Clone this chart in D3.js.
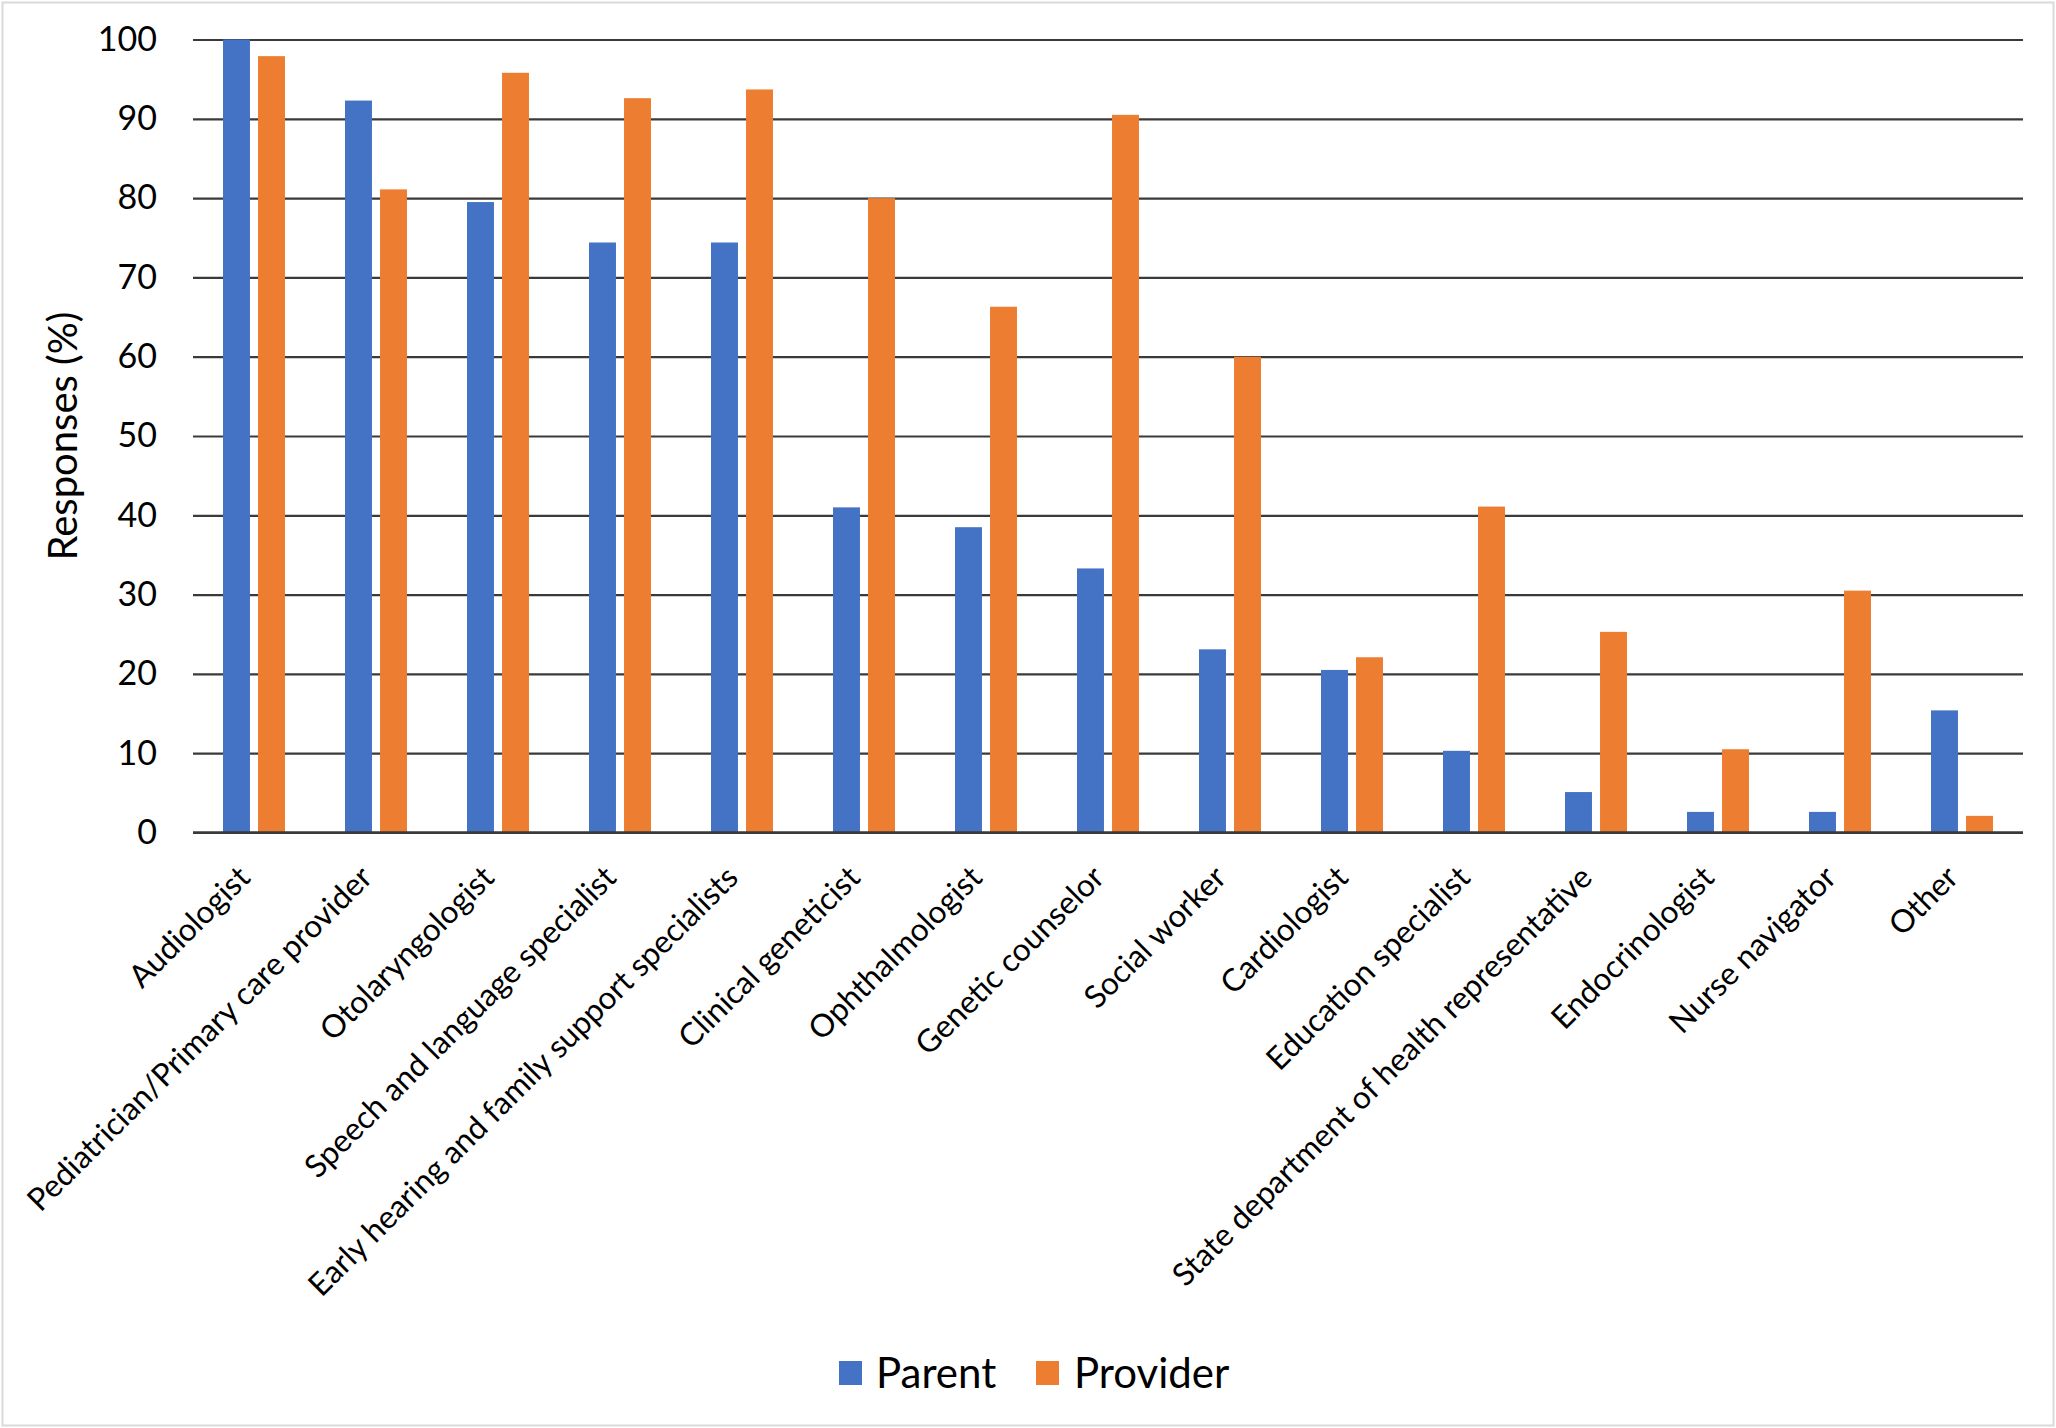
<!DOCTYPE html>
<html>
<head>
<meta charset="utf-8">
<script src="https://cdn.jsdelivr.net/npm/d3@7"></script>
<style>
  html, body { margin: 0; padding: 0; background: #fff; }
  svg { display: block; }
  text { font-family: Lato, "Open Sans", sans-serif; fill: #000; }
</style>
</head>
<body>
<svg id="chart" width="2056" height="1428"></svg>
<script>
const categories = [
  "Audiologist",
  "Pediatrician/Primary care provider",
  "Otolaryngologist",
  "Speech and language specialist",
  "Early hearing and family support specialists",
  "Clinical geneticist",
  "Ophthalmologist",
  "Genetic counselor",
  "Social worker",
  "Cardiologist",
  "Education specialist",
  "State department of health representative",
  "Endocrinologist",
  "Nurse navigator",
  "Other"
];
const parentValues   = [100, 92.3, 79.5, 74.4, 74.4, 41.0, 38.5, 33.3, 23.1, 20.5, 10.3, 5.1, 2.6, 2.6, 15.4];
const providerValues = [97.9, 81.1, 95.8, 92.6, 93.7, 80.0, 66.3, 90.5, 60.0, 22.1, 41.1, 25.3, 10.5, 30.5, 2.1];
const seriesNames = ["Parent", "Provider"];
const seriesColors = ["#4472C4", "#ED7D31"];
const yTicks = [0, 10, 20, 30, 40, 50, 60, 70, 80, 90, 100];
const yTitle = "Responses (%)";

const svg = d3.select("#chart");
const W = 2056, H = 1428;
const plot = { left: 193, right: 2023, top: 39.5, bottom: 832.5 };

// outer border
svg.append("rect").attr("x", 2.5).attr("y", 2.5).attr("width", W - 5).attr("height", H - 5)
  .attr("fill", "#fff").attr("stroke", "#d9d9d9").attr("stroke-width", 2);

const x = d3.scaleBand().domain(categories).range([plot.left, plot.right]).paddingInner(0).paddingOuter(0);
const y = d3.scaleLinear().domain([0, 100]).range([plot.bottom, plot.top]);

const x1 = d3.scaleBand().domain(seriesNames)
  .range([x.bandwidth() * (0.5 - 0.254), x.bandwidth() * (0.5 + 0.254)])
  .paddingInner(0.23);

// gridlines
const yAxis = d3.axisLeft(y).tickValues(yTicks).tickSize(-(plot.right - plot.left)).tickPadding(36);
const gy = svg.append("g").attr("transform", `translate(${plot.left},0)`).call(yAxis);
gy.select(".domain").remove();
gy.selectAll(".tick line").attr("stroke", "#3a3a3a").attr("stroke-width", 2.2);
gy.selectAll(".tick text").style("font-size", "34px").attr("fill", "#000");

// bars
const series = [parentValues, providerValues];
series.forEach((vals, si) => {
  svg.append("g").selectAll("rect").data(categories).join("rect")
    .attr("x", (d) => x(d) + x1(seriesNames[si]))
    .attr("width", x1.bandwidth())
    .attr("y", (d, i) => y(vals[i]))
    .attr("height", (d, i) => y(0) - y(vals[i]))
    .attr("fill", seriesColors[si]);
});

// zero baseline on top
svg.append("line").attr("x1", plot.left).attr("x2", plot.right)
  .attr("y1", y(0)).attr("y2", y(0)).attr("stroke", "#3a3a3a").attr("stroke-width", 2.6);

// x labels
svg.append("g").selectAll("text").data(categories).join("text")
  .attr("transform", (d) => `translate(${x(d) + x.bandwidth() / 2 - 2},${plot.bottom + 47}) rotate(-45)`)
  .attr("text-anchor", "end")
  .style("font-size", "31.5px")
  .text((d) => d);

// y title
svg.append("text")
  .attr("transform", `translate(63,${(plot.top + plot.bottom) / 2}) rotate(-90)`)
  .attr("text-anchor", "middle").attr("dy", "0.35em")
  .style("font-size", "40px")
  .text(yTitle);

// legend
const legendItems = [
  { name: seriesNames[0], color: seriesColors[0], sx: 839, tx: 876 },
  { name: seriesNames[1], color: seriesColors[1], sx: 1036, tx: 1074 }
];
const lg = svg.append("g");
legendItems.forEach((it) => {
  lg.append("rect").attr("x", it.sx).attr("y", 1361).attr("width", 23).attr("height", 24).attr("fill", it.color);
  lg.append("text").attr("x", it.tx).attr("y", 1373).attr("dy", "0.35em")
    .style("font-size", "42px").text(it.name);
});
</script>
</body>
</html>
